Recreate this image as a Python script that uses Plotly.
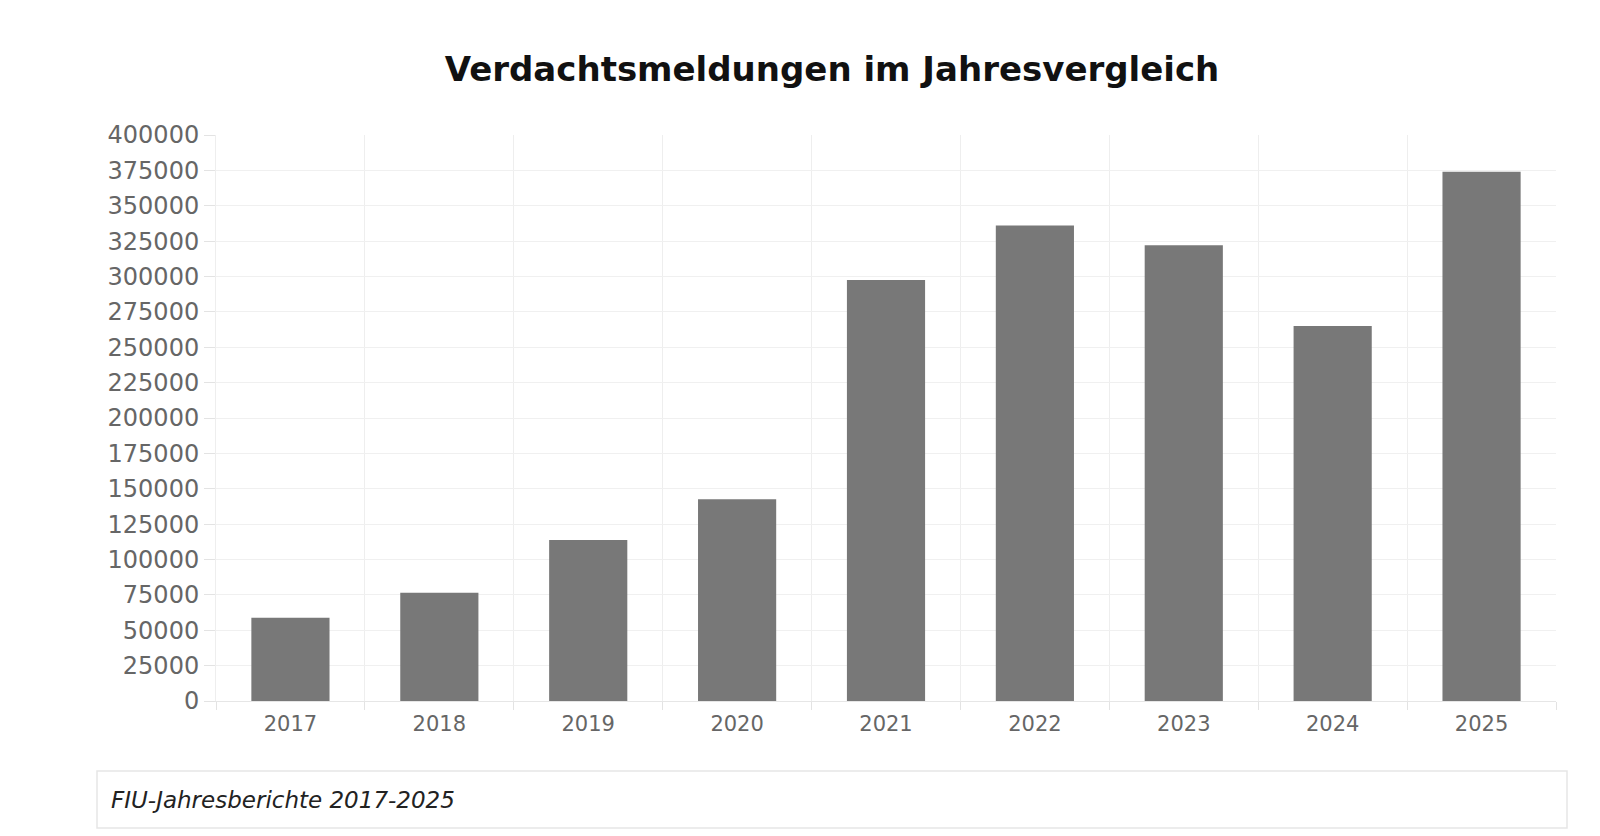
import plotly.graph_objects as go

# Verdachtsmeldungen per year
years = ["2017", "2018", "2019", "2020", "2021", "2022", "2023", "2024", "2025"]
reports = [58800, 76500, 113800, 142500, 297600, 336000, 322000, 265000, 374000]

y_ticks = list(range(0, 400001, 25000))

title_text = "Verdachtsmeldungen im Jahresvergleich"
source_text = "FIU-Jahresberichte 2017-2025"

fig = go.Figure()

fig.add_trace(
    go.Bar(
        x=years,
        y=reports,
        marker=dict(color="#787878", line=dict(width=0)),
        name="Verdachtsmeldungen",
    )
)

fig.update_layout(
    width=1600,
    height=836,
    paper_bgcolor="white",
    plot_bgcolor="white",
    margin=dict(l=208, r=52, t=127, b=143),
    bargap=0.475,
    showlegend=False,
    font=dict(family="DejaVu Sans", color="#666666"),
    title=dict(
        text="<b>" + title_text + "</b>",
        x=0.515,
        xanchor="center",
        y=0.927,
        yanchor="middle",
        font=dict(size=34, color="#111111", family="DejaVu Sans"),
    ),
)

fig.update_xaxes(
    type="category",
    tickson="boundaries",
    showgrid=True,
    gridcolor="#eeeeee",
    ticks="outside",
    ticklen=8,
    tickcolor="#e3e3e3",
    showline=True,
    linecolor="#e6e6e6",
    ticklabelstandoff=4,
    tickfont=dict(size=21, color="#666666"),
)

fig.update_yaxes(
    range=[0, 400000],
    tickvals=y_ticks,
    ticktext=[str(v) for v in y_ticks],
    showgrid=True,
    gridcolor="#f0f0f0",
    zeroline=False,
    ticks="outside",
    ticklen=11,
    tickcolor="#e3e3e3",
    showline=True,
    linecolor="#eeeeee",
    tickfont=dict(size=24, color="#666666"),
)

# source box under the chart (pixel positions turned into paper fractions)
plot_w = 1600 - 208 - 52
plot_h = 836 - 127 - 143
fig.add_shape(
    type="rect",
    xref="paper",
    yref="paper",
    x0=(89 - 208) / plot_w,
    x1=(1559 - 208) / plot_w,
    y0=(693 - 820) / plot_h,
    y1=(693 - 763) / plot_h,
    line=dict(color="#e6e6e6", width=1.5),
    fillcolor="white",
)
fig.add_annotation(
    text="<i>" + source_text + "</i>",
    xref="paper",
    yref="paper",
    x=(101 - 208) / plot_w,
    y=(693 - 792) / plot_h,
    xanchor="left",
    yanchor="middle",
    showarrow=False,
    font=dict(size=23, color="#222222", family="DejaVu Sans"),
)

fig.write_html("out.html")
